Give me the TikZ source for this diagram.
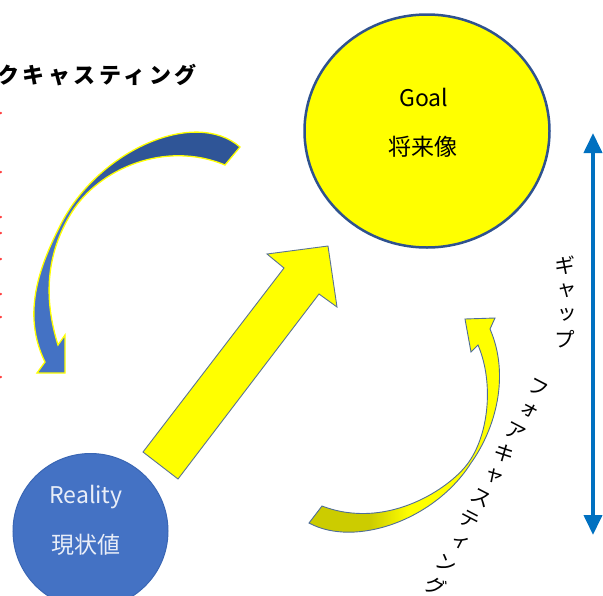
\documentclass[tikz,border=0pt]{standalone}
\usepackage{fontspec}
\usetikzlibrary{shapes.geometric,arrows.meta}
\newfontfamily\jp{Noto Sans CJK JP}
\newfontfamily\jpv[RawFeature=+vert]{Noto Sans CJK JP}
\definecolor{goalyellow}{HTML}{FFFF00}
\definecolor{goalborder}{HTML}{2F528F}
\definecolor{realfill}{HTML}{4472C4}
\definecolor{realborder}{HTML}{3A66B4}
\definecolor{realtext}{HTML}{E9EEF8}
\definecolor{arrowedge}{HTML}{5A7394}
\definecolor{gapblue}{HTML}{0070C0}
\definecolor{curvedark}{HTML}{2F5597}
\definecolor{curvelight}{HTML}{4472C4}
\definecolor{curveolive}{HTML}{CCCC00}
\definecolor{curveedge}{HTML}{4F6D99}
\definecolor{dotred}{HTML}{FF3B3B}
\pgfdeclareverticalshading{blueshade}{100bp}{color(0bp)=(curvelight); color(55bp)=(curvelight); color(64bp)=(curvedark); color(100bp)=(curvedark)}
\pgfdeclarehorizontalshading{yelshade}{100bp}{color(0bp)=(curveolive); color(40bp)=(curveolive); color(50bp)=(goalyellow); color(100bp)=(goalyellow)}
\begin{document}
\begin{tikzpicture}[x=1pt,y=-1pt,
  goalcircle/.style={ellipse, draw=goalborder, line width=2.5pt, fill=goalyellow, minimum width=245pt, minimum height=233pt, inner sep=0pt},
  realcircle/.style={circle, draw=realborder, line width=1pt, fill=realfill, minimum size=155pt, inner sep=0pt},
  goaltext/.style={font=\jp\fontsize{23}{27}\selectfont, text=black, inner sep=0pt},
  realtextstyle/.style={font=\jp\fontsize{23}{27}\selectfont, text=realtext, inner sep=0pt},
  bigarrow/.style={fill=goalyellow, draw=arrowedge, line width=0.9pt, line join=miter},
  bluecurve/.style={shading=blueshade, draw=goalyellow, line width=1.3pt},
  yellowcurve/.style={shading=yelshade, draw=curveedge, line width=0.9pt},
  gaparrow/.style={draw=gapblue, line width=4pt, <->, >={Triangle[width=18pt,length=20pt]}},
  gaptext/.style={font=\jpv\fontsize{21}{24.5}\selectfont, align=center, inner sep=0pt},
  foretext/.style={font=\jpv\fontsize{21}{24.9}\selectfont, align=center, inner sep=0pt, rotate=-27.4},
  backtext/.style={font=\jp\bfseries\fontsize{22}{26}\selectfont\addfontfeature{LetterSpace=16}, inner sep=0pt}
]
\useasboundingbox (0,0) rectangle (603,595);
\clip (0,0) rectangle (603,595);

% partially visible heading
\node[backtext] (back) at (97,75) {クキャスティング};

% red marks at the left edge
\foreach \yy in {113,172,217,233,259,294,317,377}
  \fill[dotred] (0.8,\yy) circle[radius=1.3];

% blue curved arrow (backcasting)
\shadedraw[bluecurve] (240,147) .. controls (195,108) and (100,150) .. (62,222)
  .. controls (38,268) and (22,315) .. (45,362)
  -- (37,373) -- (65,373) -- (65,335) -- (58,345)
  .. controls (44,300) and (45,255) .. (72,212)
  .. controls (99,169) and (165,140) .. (225,165)
  -- cycle;

% goal circle
\node[goalcircle] (goal) at (427,131) {};
\node[goaltext] (goallbl) at (424,97) {Goal};
\node[goaltext] (goaljp) at (423,147) {将来像};

% reality circle
\node[realcircle] (reality) at (90.5,531) {};
\node[realtextstyle] (reallbl) at (86,497) {Reality};
\node[realtextstyle] (realjp) at (86,545) {現状値};

% big straight arrow from reality towards goal
\filldraw[bigarrow] (143,452) -- (284,268) -- (267,254) -- (328,246) -- (337,307) -- (319,294) -- (178,479) -- cycle;

% yellow curved arrow (forecasting)
\shadedraw[yellowcurve] (309,523) .. controls (355,548) and (435,520) .. (471,463)
  .. controls (496,428) and (510,375) .. (490,329)
  -- (495,318) -- (465,319) -- (471,352) -- (478,345)
  .. controls (495,385) and (488,440) .. (465,467)
  .. controls (445,491) and (385,530) .. (322,506)
  -- cycle;

% gap double arrow
\coordinate (gaptop) at (593,133);
\coordinate (gapbot) at (593,535);
\draw[gaparrow] (gaptop) -- (gapbot);
\node[gaptext] (gap) at (565,302) {ギ\\ャ\\ッ\\プ};

% forecasting label
\node[foretext] (fore) at (486.5,487.5) {フ\\ォ\\ア\\キ\\ャ\\ス\\テ\\ィ\\ン\\グ};
\end{tikzpicture}
\end{document}
